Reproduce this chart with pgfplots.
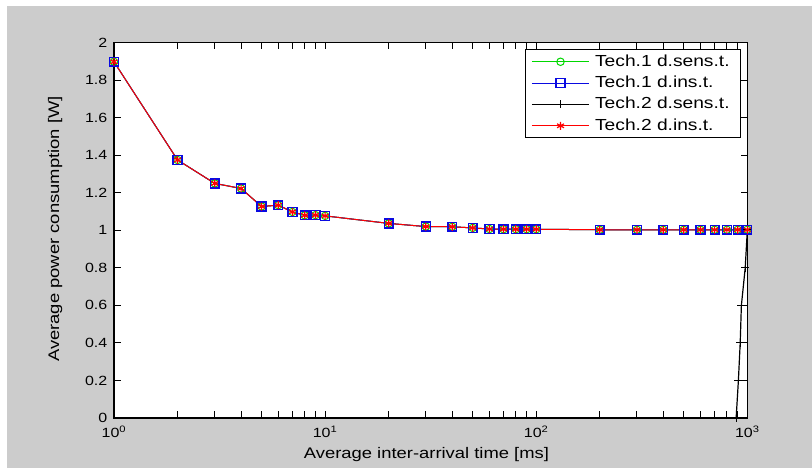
\documentclass[border=0pt]{standalone}
\usepackage{fontspec}
\setmainfont[FakeStretch=1.2]{Liberation Sans}
\usepackage{pgfplots}
\usepackage{pgfplotstable}
\pgfplotsset{compat=1.18}
\definecolor{figgray}{RGB}{204,204,204}
\definecolor{mgreen}{RGB}{0,215,0}
\definecolor{mblue}{RGB}{10,10,225}
\definecolor{mred}{RGB}{255,0,0}

\pgfplotstableread{
x y
1 1.898
2 1.375
3 1.250
4 1.223
5 1.127
6 1.134
7 1.098
8 1.080
9 1.081
10 1.077
20 1.037
30 1.020
40 1.019
50 1.013
60 1.007
70 1.006
80 1.006
90 1.006
100 1.006
200 1.003
300 1.003
400 1.003
500 1.003
600 1.003
700 1.003
800 1.003
900 1.003
1000 1.003
}\techdata

\pgfplotstableread{
x y
885 0
907 0.2
925 0.4
937 0.6
977 0.8
1000 1.003
}\techblack

\begin{document}
\begin{tikzpicture}[x=1pt,y=1pt]
\useasboundingbox (0,0) rectangle (609,351);
\fill[white] (0,0) rectangle (609,351);
\fill[figgray] (5,0) rectangle (609,346.5);
\begin{axis}[
  at={(85.5pt,37.5pt)}, anchor=south west,
  scale only axis, width=475pt, height=281.5pt,
  xmode=log, xmin=1, xmax=1000, ymin=0, ymax=2,
  axis background/.style={fill=white},
  xtick={1,10,100,1000},
  xticklabels={10\textsuperscript{0},10\textsuperscript{1},10\textsuperscript{2},10\textsuperscript{3}},
  minor xtick={2,3,4,5,6,7,8,9,20,30,40,50,60,70,80,90,200,300,400,500,600,700,800,900},
  ytick={0,0.2,0.4,0.6,0.8,1,1.2,1.4,1.6,1.8,2},
  yticklabels={0,0.2,0.4,0.6,0.8,1,1.2,1.4,1.6,1.8,2},
  tick align=inside,
  major tick length=5pt, minor tick length=5pt,
  every tick/.style={black, line width=0.75pt},
  axis line style={black, line width=0.8pt},
  tick label style={font=\fontsize{10}{12}\selectfont},
  yticklabel style={xshift=-1.5pt},
  xticklabel style={yshift=-2.5pt},
  xlabel={Average inter-arrival time [ms]},
  ylabel={Average power consumption [W]},
  label style={font=\fontsize{11.5}{13}\selectfont},
  xlabel style={at={(axis description cs:0.4934,-0.1066)}, anchor=base},
  ylabel style={at={(axis description cs:-0.0868,0.5036)}, anchor=base},
  legend style={at={(0.9896,0.9824)}, anchor=north east, draw=black, line width=0.75pt,
    fill=white, inner xsep=4pt, inner ysep=1pt, font=\fontsize{12}{14}\selectfont,
    nodes={inner xsep=4pt, inner ysep=2.25pt, text height=9pt, text depth=2.5pt}},
  legend cell align=left,
  legend image code/.code={\draw[mark repeat=2, mark phase=2] plot coordinates {(0pt,0pt) (21.5pt,0pt) (43pt,0pt)};},
]
\addplot[mgreen, line width=0.75pt, mark=o, mark size=2.8pt, mark options={solid, line width=0.75pt}] table[x=x,y=y] {\techdata};
\addlegendentry{Tech.1 d.sens.t.}
\addplot[mblue, line width=0.75pt, mark=square, mark size=3.3pt, mark options={solid, line width=1.1pt}] table[x=x,y=y] {\techdata};
\addlegendentry{Tech.1 d.ins.t.}
\addplot[black, line width=0.9pt, mark=+, mark size=3pt, mark options={solid, line width=0.75pt}] table[x=x,y=y] {\techblack};
\addlegendentry{Tech.2 d.sens.t.}
\addplot[mred, line width=0.75pt, mark=asterisk, mark size=3pt, mark options={solid, line width=0.9pt}] table[x=x,y=y] {\techdata};
\addlegendentry{Tech.2 d.ins.t.}
\end{axis}
\end{tikzpicture}
\end{document}
